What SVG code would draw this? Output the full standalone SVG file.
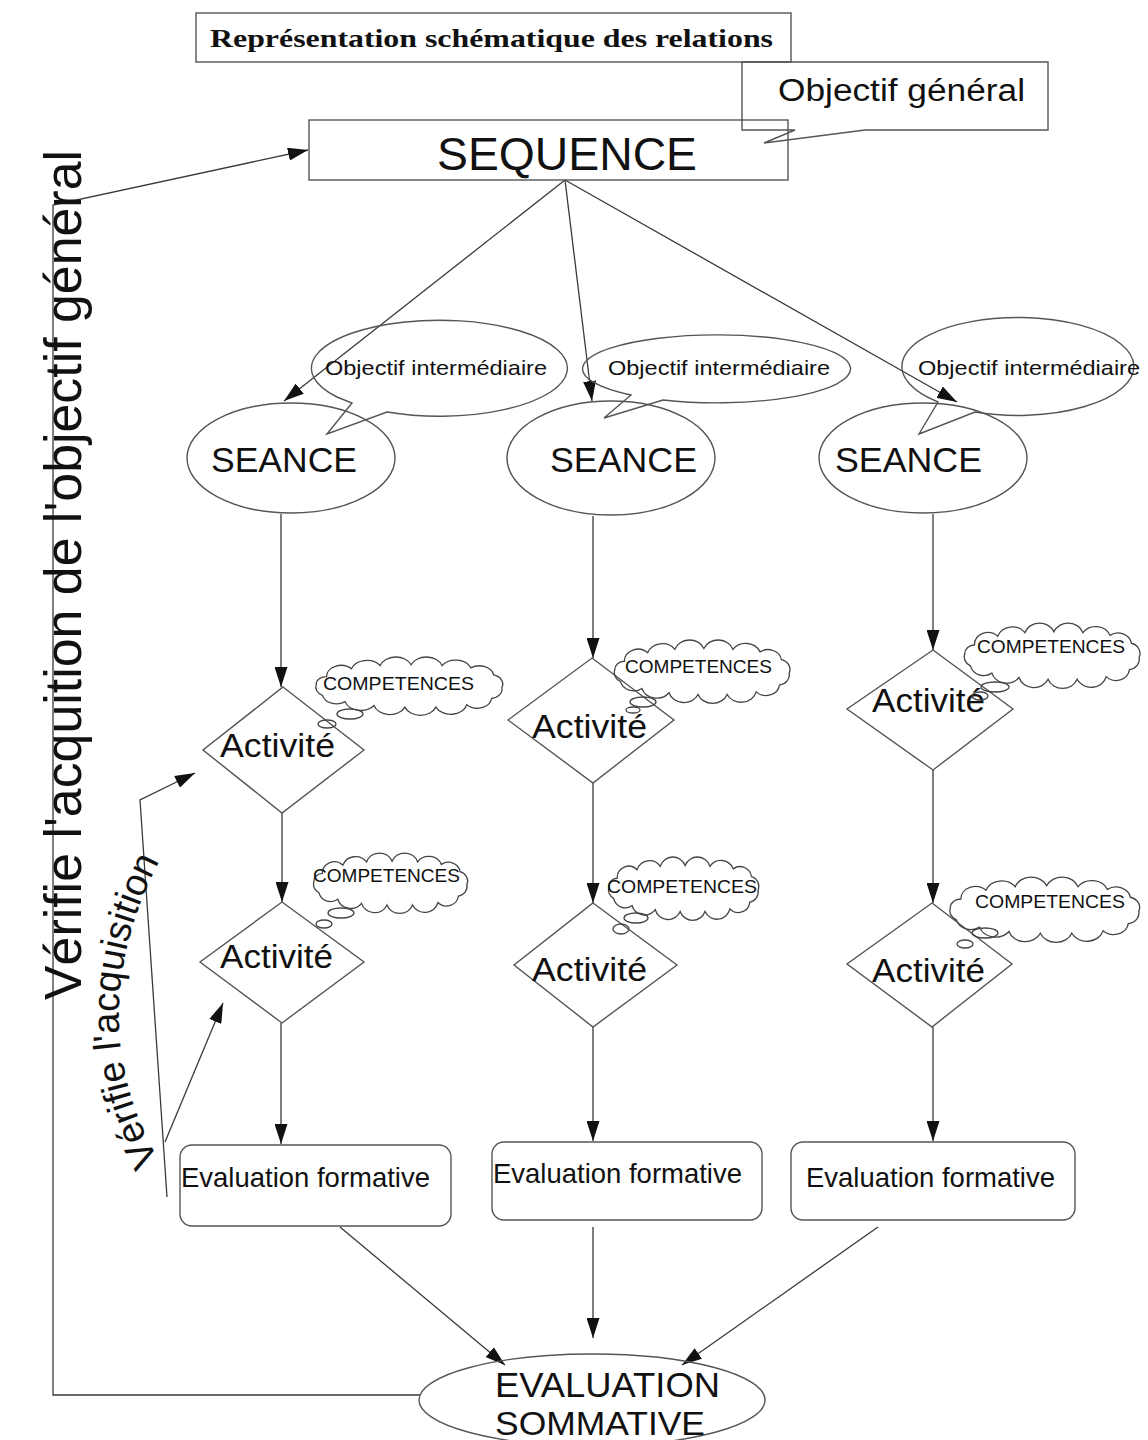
<svg xmlns="http://www.w3.org/2000/svg" xmlns:xlink="http://www.w3.org/1999/xlink" width="1148" height="1440" viewBox="0 0 1148 1440">
<style>
.ln{fill:none;stroke:#3a3a3a;stroke-width:1.3}
.sh{fill:none;stroke:#555;stroke-width:1.4}
.t{font-family:"Liberation Sans",Arial,sans-serif;fill:#111}
.cl{fill:none;stroke:#444;stroke-width:1.3}
</style>
<defs>
<marker id="ah" viewBox="0 0 20 13" refX="20" refY="6.5" markerWidth="20" markerHeight="13" markerUnits="userSpaceOnUse" orient="auto">
<path d="M0,0 L20,6.5 L0,13 z" fill="#111"/>
</marker>
<symbol id="cloud" viewBox="-4 -8 208 80" preserveAspectRatio="none">
<path class="cl" vector-effect="non-scaling-stroke" d="M20,20 A14,14 0 0 1 44,10 A16,16 0 0 1 72,6 A16,16 0 0 1 102,5 A16,16 0 0 1 132,6 A16,16 0 0 1 160,9 A14,14 0 0 1 182,18 A12,12 0 0 1 190,34 A12,12 0 0 1 180,48 A14,14 0 0 1 156,56 A16,16 0 0 1 126,59 A16,16 0 0 1 96,59 A16,16 0 0 1 66,57 A16,16 0 0 1 38,52 A14,14 0 0 1 16,44 A12,12 0 0 1 10,30 A10,10 0 0 1 20,20 Z"/>
</symbol>
<path id="arcPath" d="M160,1162 Q72,1010 172,838"/>
</defs>
<rect width="1148" height="1440" fill="#fff"/>

<g id="connectors">
<polyline class="ln" points="420,1395 53,1395 53,205 308,150" marker-end="url(#ah)"/>
<line class="ln" x1="565" y1="180" x2="284" y2="401" marker-end="url(#ah)"/>
<line class="ln" x1="565" y1="180" x2="592" y2="401" marker-end="url(#ah)"/>
<line class="ln" x1="565" y1="180" x2="957" y2="402" marker-end="url(#ah)"/>
<line class="ln" x1="281" y1="514" x2="281" y2="687" marker-end="url(#ah)"/>
<line class="ln" x1="282" y1="813" x2="282" y2="902" marker-end="url(#ah)"/>
<line class="ln" x1="281" y1="1023" x2="281" y2="1144" marker-end="url(#ah)"/>
<line class="ln" x1="593" y1="516" x2="593" y2="658" marker-end="url(#ah)"/>
<line class="ln" x1="593" y1="783" x2="593" y2="903" marker-end="url(#ah)"/>
<line class="ln" x1="593" y1="1027" x2="593" y2="1141" marker-end="url(#ah)"/>
<line class="ln" x1="933" y1="514" x2="933" y2="650" marker-end="url(#ah)"/>
<line class="ln" x1="933" y1="770" x2="933" y2="903" marker-end="url(#ah)"/>
<line class="ln" x1="933" y1="1027" x2="933" y2="1141" marker-end="url(#ah)"/>
<line class="ln" x1="340" y1="1227" x2="505" y2="1365" marker-end="url(#ah)"/>
<line class="ln" x1="593" y1="1227" x2="593" y2="1338" marker-end="url(#ah)"/>
<line class="ln" x1="878" y1="1227" x2="682" y2="1365" marker-end="url(#ah)"/>
<polyline class="ln" points="167,1197 140,800 195,773" marker-end="url(#ah)"/>
<line class="ln" x1="165" y1="1142" x2="223" y2="1003" marker-end="url(#ah)"/>
</g>

<g id="labels">
<text class="t" font-size="52" transform="translate(81,1000) rotate(-90)" textLength="850" lengthAdjust="spacingAndGlyphs">Vérifie l'acquition de l'objectif général</text>
<text class="t" font-size="38"><textPath href="#arcPath" startOffset="2">Vérifie l'acquisition</textPath></text>
</g>

<g id="title">
<rect class="sh" x="196" y="13" width="595" height="49"/>
<text x="210" y="47" font-family="'Liberation Serif','Times New Roman',serif" font-weight="bold" font-size="25" fill="#111" textLength="563" lengthAdjust="spacingAndGlyphs">Représentation schématique des relations</text>
</g>

<g id="sequence">
<rect class="sh" x="309" y="120" width="479" height="60"/>
<text class="t" x="437" y="170" font-size="46" textLength="260" lengthAdjust="spacingAndGlyphs">SEQUENCE</text>
</g>

<g id="objectif-general">
<path class="sh" d="M742,62 H1048 V130 H865 L764,143 L795,130 H742 Z"/>
<text class="t" x="778" y="101" font-size="31" textLength="247" lengthAdjust="spacingAndGlyphs">Objectif général</text>
</g>

<g id="objectif-intermediaire-1">
<path class="sh" d="M387,412 A128,48 0 1 0 337,397 L352,403 L327,434 Z"/>
<text class="t" x="325" y="375" font-size="21" textLength="222" lengthAdjust="spacingAndGlyphs">Objectif intermédiaire</text>
</g>
<g id="objectif-intermediaire-2">
<path class="sh" d="M663,400 A134,34 0 1 0 631,395 L604,418 Z"/>
<text class="t" x="608" y="375" font-size="21" textLength="222" lengthAdjust="spacingAndGlyphs">Objectif intermédiaire</text>
</g>
<g id="objectif-intermediaire-3">
<path class="sh" d="M975,412 A116,49 0 1 0 938,402 L919,434 Z"/>
<text class="t" x="918" y="375" font-size="21" textLength="222" lengthAdjust="spacingAndGlyphs">Objectif intermédiaire</text>
</g>

<g id="seance-1">
<ellipse class="sh" cx="291" cy="458" rx="104" ry="55"/>
<text class="t" x="211" y="472" font-size="35" textLength="146" lengthAdjust="spacingAndGlyphs">SEANCE</text>
</g>
<g id="seance-2">
<ellipse class="sh" cx="611" cy="458" rx="104" ry="57"/>
<text class="t" x="550" y="472" font-size="35" textLength="147" lengthAdjust="spacingAndGlyphs">SEANCE</text>
</g>
<g id="seance-3">
<ellipse class="sh" cx="923" cy="458" rx="104" ry="55"/>
<text class="t" x="835" y="472" font-size="35" textLength="147" lengthAdjust="spacingAndGlyphs">SEANCE</text>
</g>

<g id="activite-1">
<polygon class="sh" points="283,687 364,750 282,813 203,750"/>
<text class="t" x="220" y="757" font-size="34" textLength="115" lengthAdjust="spacingAndGlyphs">Activité</text>
</g>
<g id="activite-2">
<polygon class="sh" points="282,902 364,962 282,1023 200,962"/>
<text class="t" x="220" y="968" font-size="34" textLength="113" lengthAdjust="spacingAndGlyphs">Activité</text>
</g>
<g id="activite-3">
<polygon class="sh" points="592,658 674,720 593,783 508,720"/>
<text class="t" x="532" y="738" font-size="34" textLength="115" lengthAdjust="spacingAndGlyphs">Activité</text>
</g>
<g id="activite-4">
<polygon class="sh" points="593,903 677,965 593,1027 514,965"/>
<text class="t" x="532" y="981" font-size="34" textLength="115" lengthAdjust="spacingAndGlyphs">Activité</text>
</g>
<g id="activite-5">
<polygon class="sh" points="933,650 1013,709 933,770 847,709"/>
<text class="t" x="872" y="712" font-size="34" textLength="113" lengthAdjust="spacingAndGlyphs">Activité</text>
</g>
<g id="activite-6">
<polygon class="sh" points="932,903 1012,964 932,1027 847,964"/>
<text class="t" x="872" y="982" font-size="34" textLength="113" lengthAdjust="spacingAndGlyphs">Activité</text>
</g>

<g id="competences-1">
<use href="#cloud" x="301.8" y="654.6" width="214.5" height="62.7"/>
<ellipse class="cl" cx="350" cy="714" rx="13" ry="5"/>
<ellipse class="cl" cx="327" cy="724" rx="9" ry="4"/>
<text class="t" x="323" y="690" font-size="18" textLength="151" lengthAdjust="spacingAndGlyphs">COMPETENCES</text>
</g>
<g id="competences-2">
<use href="#cloud" x="302" y="850.6" width="176.8" height="64.9"/>
<ellipse class="cl" cx="341" cy="913" rx="13" ry="5"/>
<ellipse class="cl" cx="324" cy="924" rx="8" ry="4"/>
<text class="t" x="313" y="882" font-size="18" textLength="147" lengthAdjust="spacingAndGlyphs">COMPETENCES</text>
</g>
<g id="competences-3">
<use href="#cloud" x="601.2" y="637.4" width="201.5" height="68.1"/>
<ellipse class="cl" cx="643" cy="702" rx="13" ry="5"/>
<ellipse class="cl" cx="633" cy="710" rx="7" ry="3"/>
<text class="t" x="625" y="673" font-size="18" textLength="147" lengthAdjust="spacingAndGlyphs">COMPETENCES</text>
</g>
<g id="competences-4">
<use href="#cloud" x="597.2" y="854.4" width="172.5" height="68.1"/>
<ellipse class="cl" cx="636" cy="918" rx="12" ry="5"/>
<ellipse class="cl" cx="621" cy="929" rx="8" ry="5"/>
<text class="t" x="607" y="893" font-size="18" textLength="150" lengthAdjust="spacingAndGlyphs">COMPETENCES</text>
</g>
<g id="competences-5">
<use href="#cloud" x="951.2" y="620.4" width="201.5" height="70.3"/>
<ellipse class="cl" cx="995" cy="687" rx="14" ry="5"/>
<ellipse class="cl" cx="980" cy="696" rx="8" ry="4"/>
<text class="t" x="977" y="653" font-size="18" textLength="148" lengthAdjust="spacingAndGlyphs">COMPETENCES</text>
</g>
<g id="competences-6">
<use href="#cloud" x="935.7" y="874.4" width="217.7" height="70.3"/>
<ellipse class="cl" cx="985" cy="933" rx="13" ry="5"/>
<ellipse class="cl" cx="965" cy="944" rx="8" ry="4"/>
<text class="t" x="975" y="908" font-size="18" textLength="150" lengthAdjust="spacingAndGlyphs">COMPETENCES</text>
</g>

<g id="evaluation-formative-1">
<rect class="sh" x="180" y="1145" width="271" height="81" rx="12"/>
<text class="t" x="181" y="1187" font-size="28" textLength="249" lengthAdjust="spacingAndGlyphs">Evaluation formative</text>
</g>
<g id="evaluation-formative-2">
<rect class="sh" x="492" y="1142" width="270" height="78" rx="12"/>
<text class="t" x="493" y="1183" font-size="28" textLength="249" lengthAdjust="spacingAndGlyphs">Evaluation formative</text>
</g>
<g id="evaluation-formative-3">
<rect class="sh" x="791" y="1142" width="284" height="78" rx="12"/>
<text class="t" x="806" y="1187" font-size="28" textLength="249" lengthAdjust="spacingAndGlyphs">Evaluation formative</text>
</g>

<g id="evaluation-sommative">
<ellipse class="sh" cx="592" cy="1400" rx="173" ry="46"/>
<text class="t" x="495" y="1397" font-size="35" textLength="225" lengthAdjust="spacingAndGlyphs">EVALUATION</text>
<text class="t" x="495" y="1435" font-size="33" textLength="210" lengthAdjust="spacingAndGlyphs">SOMMATIVE</text>
</g>
</svg>
